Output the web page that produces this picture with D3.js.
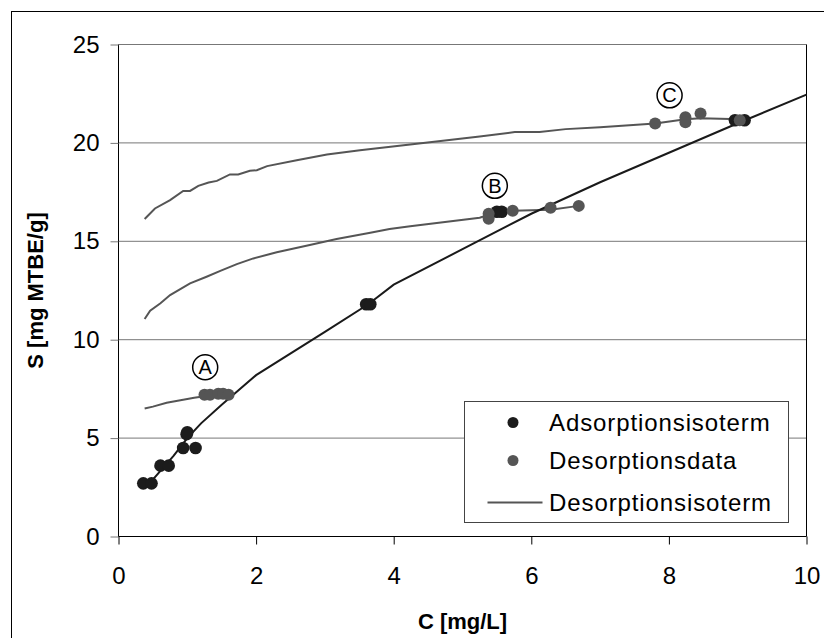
<!DOCTYPE html>
<html>
<head>
<meta charset="utf-8">
<script src="https://cdn.jsdelivr.net/npm/d3@7"></script>
<style>
  body { margin: 0; background: #fff; }
  svg { font-family: "Liberation Sans", Arial, sans-serif; }
</style>
</head>
<body>
<div id="chart"></div>
<script>
// adsorption data points (black)
const adsC = [0.36, 0.48, 0.61, 0.73, 0.94, 0.99, 1.0, 1.12, 3.6, 3.66, 5.5, 5.57, 8.96, 9.1];
const adsS = [2.7, 2.7, 3.6, 3.6, 4.5, 5.2, 5.3, 4.5, 11.8, 11.8, 16.5, 16.5, 21.15, 21.15];

// desorption data points (grey)
const desC = [1.25, 1.33, 1.45, 1.52, 1.6, 5.38, 5.38, 5.73, 6.28, 6.69, 7.8, 8.24, 8.24, 8.46, 9.03];
const desS = [7.2, 7.2, 7.25, 7.25, 7.2, 16.4, 16.15, 16.55, 16.7, 16.8, 20.98, 21.3, 21.05, 21.5, 21.15];

// adsorption isotherm (black line)
const isoC = [0.4, 0.6, 0.8, 1.0, 1.2, 1.5, 2.0, 3.0, 3.63, 4.0, 5.0, 6.0, 7.0, 8.0, 9.0, 10.0];
const isoS = [2.5, 3.3, 4.1, 5.0, 5.75, 6.7, 8.2, 10.4, 11.8, 12.8, 14.6, 16.4, 18.0, 19.5, 21.0, 22.45];

// desorption isotherms (grey lines)
const desA_C = [0.38, 0.5, 0.7, 0.9, 1.1, 1.3, 1.45, 1.6];
const desA_S = [6.5, 6.6, 6.8, 6.92, 7.05, 7.15, 7.22, 7.25];
const desB_C = [0.38, 0.46, 0.61, 0.75, 1.04, 1.28, 1.48, 1.72, 1.96, 2.3, 2.78, 3.17, 3.66, 3.94, 4.24, 5.25, 5.38, 5.73, 6.28, 6.69];
const desB_S = [11.05, 11.47, 11.85, 12.27, 12.86, 13.2, 13.5, 13.84, 14.13, 14.44, 14.81, 15.12, 15.43, 15.62, 15.77, 16.2, 16.35, 16.55, 16.6, 16.8];
const desC_C = [0.38, 0.53, 0.75, 0.94, 1.04, 1.16, 1.31, 1.43, 1.62, 1.74, 1.91, 2.01, 2.16, 2.59, 3.03, 3.51, 4.24, 5.25, 5.76, 6.12, 6.5, 7.0, 7.8, 8.24, 8.46, 9.03, 9.1];
const desC_S = [16.13, 16.67, 17.09, 17.56, 17.56, 17.82, 17.99, 18.07, 18.4, 18.4, 18.58, 18.61, 18.82, 19.12, 19.41, 19.63, 19.92, 20.33, 20.55, 20.55, 20.7, 20.8, 20.98, 21.2, 21.25, 21.2, 21.2];

// circled labels
const markLabels = ["A", "B", "C"];
const markC = [1.26, 5.47, 8.01];
const markS = [8.6, 17.82, 22.42];

const xTicks = [0, 2, 4, 6, 8, 10];
const yTicks = [0, 5, 10, 15, 20, 25];

const legendNames = ["Adsorptionsisoterm", "Desorptionsdata", "Desorptionsisoterm"];

const W = 824, H = 638;
const margin = {top: 44.5, right: 17.5, bottom: 101.5, left: 118.5};
const width = W - margin.left - margin.right,
      height = H - margin.top - margin.bottom;

const svg = d3.select("#chart").append("svg")
  .attr("width", W).attr("height", H);

// outer chart frame (cropped at right and bottom)
svg.append("rect")
  .attr("x", 11.5).attr("y", 11.5)
  .attr("width", 840).attr("height", 660)
  .attr("fill", "none").attr("stroke", "#000").attr("stroke-width", 1);

const g = svg.append("g")
  .attr("transform", "translate(" + margin.left + "," + margin.top + ")");

const x = d3.scaleLinear().domain([0, 10]).range([0, width]);
const y = d3.scaleLinear().domain([0, 25]).range([height, 0]);

// gridlines
g.append("g")
  .selectAll("line")
  .data(yTicks.slice(1))
  .enter().append("line")
    .attr("x1", 0).attr("x2", width)
    .attr("y1", d => y(d)).attr("y2", d => y(d))
    .attr("stroke", "#777").attr("stroke-width", 1);

// right border of plot area
g.append("line")
  .attr("x1", width).attr("x2", width)
  .attr("y1", 0).attr("y2", height)
  .attr("stroke", "#000").attr("stroke-width", 1);

// y axis
const yAxis = g.append("g")
  .call(d3.axisLeft(y).tickValues(yTicks).tickSize(8).tickPadding(11));
yAxis.select(".domain").attr("stroke", "#000").attr("d", "M0," + height + "V0");
yAxis.selectAll(".tick line").attr("stroke", "#777");
yAxis.selectAll(".tick text")
  .attr("font-size", 24).attr("fill", "#000")
  .attr("font-family", "Liberation Sans, Arial, sans-serif");

// x axis
const xAxis = g.append("g")
  .attr("transform", "translate(0," + height + ")")
  .call(d3.axisBottom(x).tickValues(xTicks).tickSize(8).tickPadding(22));
xAxis.select(".domain").attr("stroke", "#000").attr("d", "M0,0H" + width);
xAxis.selectAll(".tick line").attr("stroke", "#000");
xAxis.selectAll(".tick text")
  .attr("font-size", 24).attr("fill", "#000")
  .attr("font-family", "Liberation Sans, Arial, sans-serif");

// axis titles
svg.append("text")
  .attr("x", margin.left + width / 2)
  .attr("y", 629)
  .attr("text-anchor", "middle")
  .attr("font-size", 22).attr("font-weight", "bold")
  .text("C [mg/L]");

svg.append("text")
  .attr("transform", "translate(43," + (margin.top + height / 2) + ") rotate(-90)")
  .attr("text-anchor", "middle")
  .attr("font-size", 22).attr("font-weight", "bold")
  .text("S [mg MTBE/g]");

const line = d3.line().x(d => x(d[0])).y(d => y(d[1]));
const zip = (a, b) => a.map((v, i) => [v, b[i]]);

// desorption isotherms
[[desA_C, desA_S], [desB_C, desB_S], [desC_C, desC_S]].forEach(s => {
  g.append("path")
    .attr("d", line(zip(s[0], s[1])))
    .attr("fill", "none").attr("stroke", "#555").attr("stroke-width", 2);
});

// adsorption isotherm
g.append("path")
  .attr("d", line(zip(isoC, isoS)))
  .attr("fill", "none").attr("stroke", "#1a1a1a").attr("stroke-width", 2);

// adsorption points
g.append("g").selectAll("circle")
  .data(zip(adsC, adsS))
  .enter().append("circle")
    .attr("cx", d => x(d[0])).attr("cy", d => y(d[1]))
    .attr("r", 6.3).attr("fill", "#1c1c1c");

// desorption points
g.append("g").selectAll("circle")
  .data(zip(desC, desS))
  .enter().append("circle")
    .attr("cx", d => x(d[0])).attr("cy", d => y(d[1]))
    .attr("r", 6).attr("fill", "#555");

// circled letters
const marks = g.append("g").selectAll("g")
  .data(markLabels.map((l, i) => [l, markC[i], markS[i]]))
  .enter().append("g")
    .attr("transform", d => "translate(" + x(d[1]) + "," + y(d[2]) + ")");
marks.append("circle")
  .attr("r", 12.5).attr("fill", "none").attr("stroke", "#000").attr("stroke-width", 1.5);
marks.append("text")
  .attr("text-anchor", "middle").attr("dy", "0.36em")
  .attr("font-size", 20)
  .text(d => d[0]);

// legend
const lg = svg.append("g").attr("transform", "translate(464.5,401.5)");
lg.append("rect")
  .attr("width", 324).attr("height", 121)
  .attr("fill", "#fff").attr("stroke", "#444").attr("stroke-width", 1);
const rows = [21, 59, 101];
lg.append("circle").attr("cx", 48.5).attr("cy", rows[0]).attr("r", 5.5).attr("fill", "#1c1c1c");
lg.append("circle").attr("cx", 48.5).attr("cy", rows[1]).attr("r", 5.5).attr("fill", "#555");
lg.append("line")
  .attr("x1", 23).attr("x2", 78).attr("y1", rows[2]).attr("y2", rows[2])
  .attr("stroke", "#555").attr("stroke-width", 2);
lg.selectAll("text.leg")
  .data(legendNames)
  .enter().append("text")
    .attr("class", "leg")
    .attr("x", 84.5).attr("y", (d, i) => rows[i])
    .attr("dy", "0.35em")
    .attr("font-size", 24).attr("letter-spacing", 0.9)
    .text(d => d);
</script>
</body>
</html>
